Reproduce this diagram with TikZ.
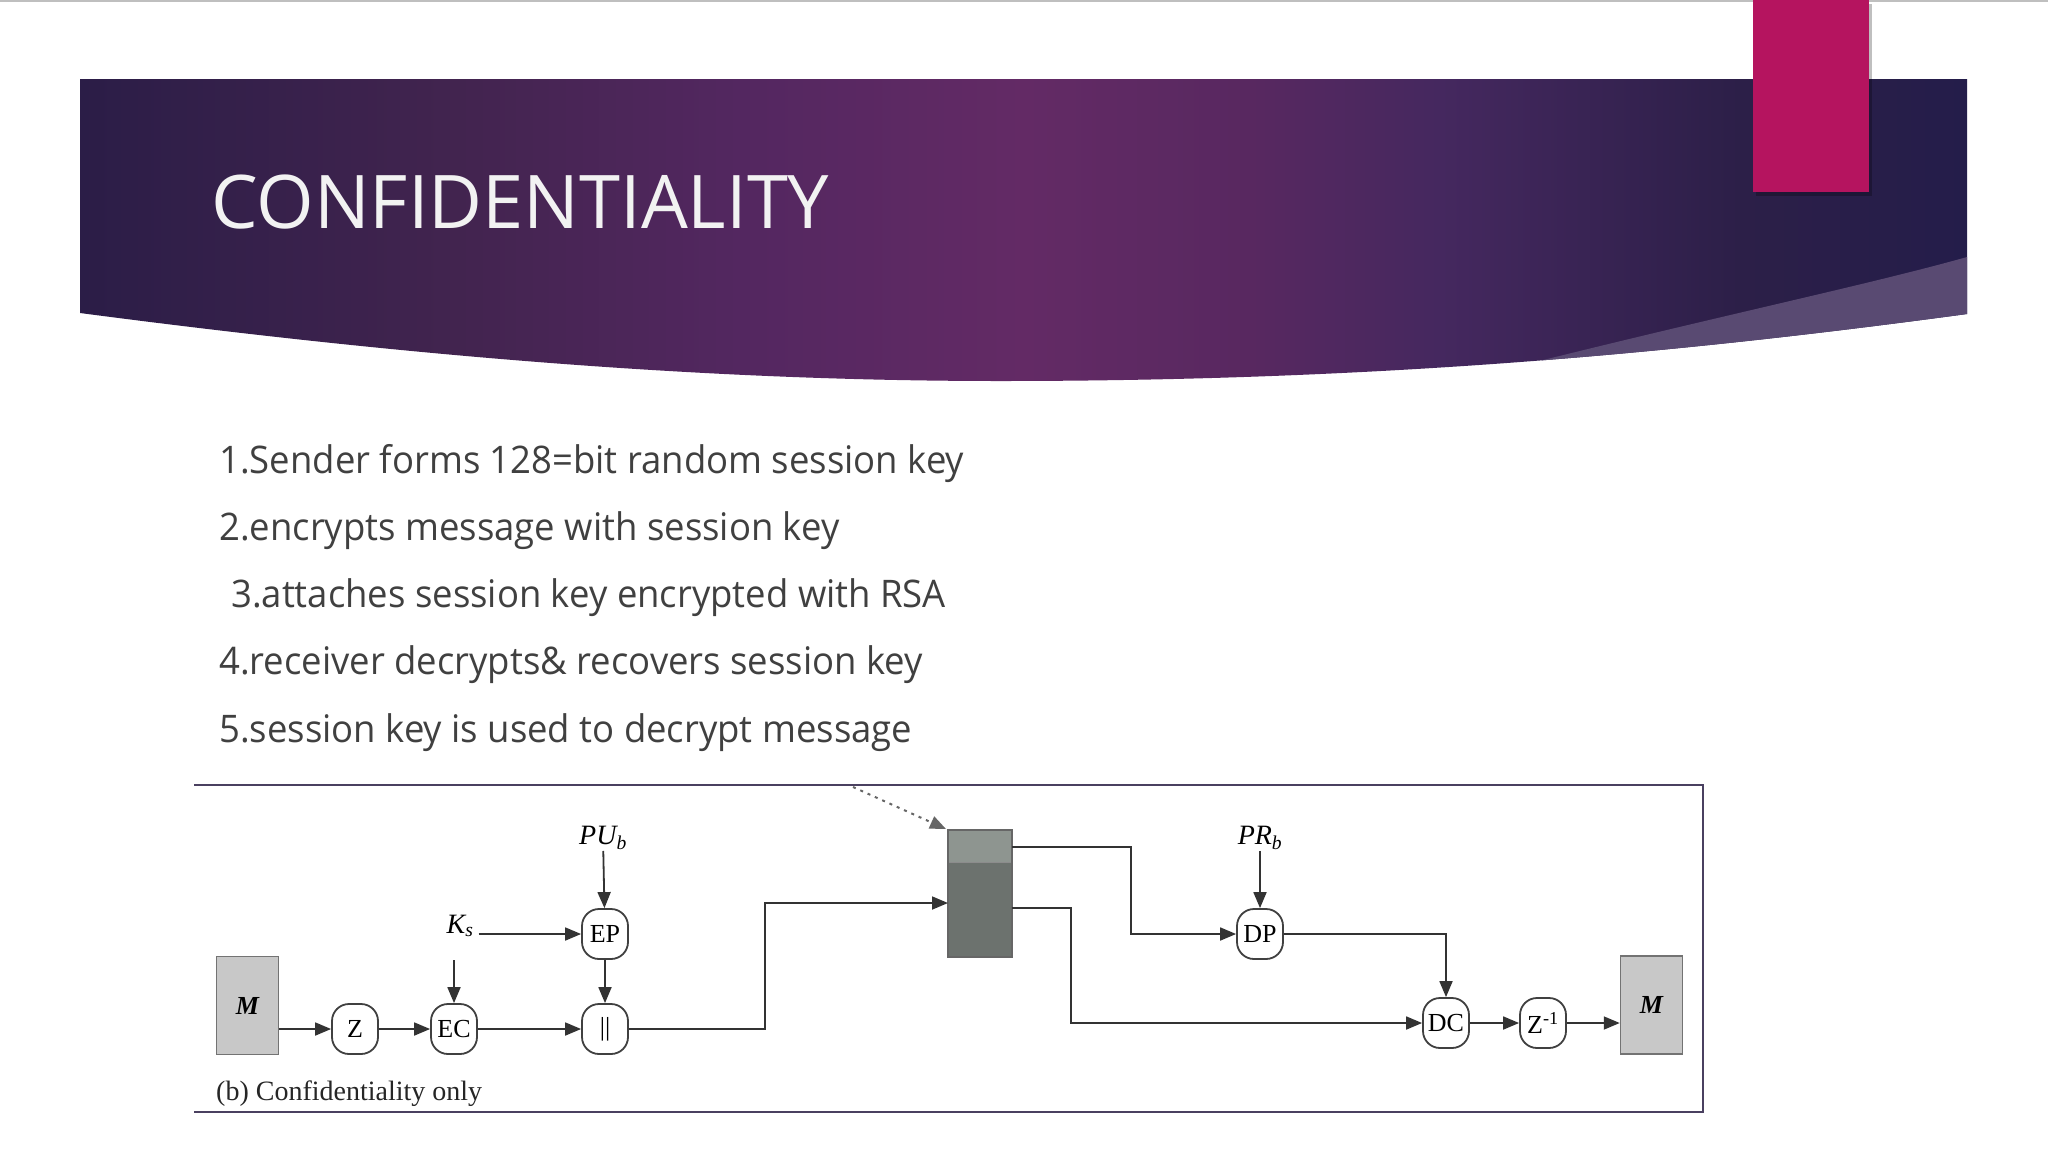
\documentclass[tikz,border=0pt]{standalone}
\usepackage{fontspec}
\usetikzlibrary{arrows.meta,calc}
\newfontfamily\bodyfont[FakeStretch=0.96]{Open Sans}
\newfontfamily\titlefont{Open Sans}
\newfontfamily\diagfont{Liberation Serif}
\definecolor{bandA}{HTML}{2B1D47}
\definecolor{bandB}{HTML}{42244F}
\definecolor{bandC}{HTML}{532760}
\definecolor{bandD}{HTML}{632A65}
\definecolor{bandE}{HTML}{582860}
\definecolor{bandF}{HTML}{45285F}
\definecolor{bandG}{HTML}{2C1F48}
\definecolor{bandH}{HTML}{241D4A}
\definecolor{wedge}{HTML}{594A72}
\definecolor{magbar}{HTML}{B5145F}
\definecolor{bodytext}{HTML}{404040}
\definecolor{framecol}{HTML}{4A4060}
\definecolor{linecol}{HTML}{333333}
\definecolor{boxgray}{HTML}{C8C8C8}
\definecolor{pktdark}{HTML}{6C726E}
\definecolor{pktlight}{HTML}{8E9590}
\pgfdeclarehorizontalshading{bandshade}{100bp}{
  color(0bp)=(bandA); color(25bp)=(bandA); color(35bp)=(bandB); color(42.5bp)=(bandC);
  color(50bp)=(bandD); color(56bp)=(bandE); color(61bp)=(bandF);
  color(69bp)=(bandG); color(75bp)=(bandH); color(100bp)=(bandH)}
\tikzset{
  bodyline/.style={anchor=base west, text=bodytext, inner sep=0pt,
    font=\bodyfont\fontsize{38}{46}\selectfont},
  proc/.style={draw=black!75, line width=1.8pt, fill=white, rounded corners=17pt,
    minimum width=46pt, minimum height=50pt, inner sep=0pt,
    font=\diagfont\fontsize{26}{28}\selectfont},
  msgbox/.style={draw=black!55, line width=1.5pt, fill=boxgray, minimum width=62pt,
    minimum height=98pt, inner sep=0pt, font=\diagfont\fontsize{26}{28}\selectfont\bfseries\itshape},
  lbl/.style={inner sep=1pt, font=\diagfont\fontsize{28}{30}\selectfont\itshape},
  arr/.style={draw=linecol, line width=1.8pt, -{Triangle[length=16pt,width=13pt]}},
  dotarr/.style={draw=black!60, line width=2pt, dash pattern=on 3pt off 5pt,
    -{Triangle[length=16pt,width=13pt]}},
  frameline/.style={draw=framecol, line width=2.5pt}
}
\begin{document}
\begin{tikzpicture}[x=1pt,y=-1pt]
\useasboundingbox (0,0) rectangle (2048,1152);
\fill[white] (0,0) rectangle (2048,1152);
\draw[black!25, line width=2pt] (0,1) -- (2048,1);
% header band
\shade[shading=bandshade] (80,79) -- (1967,79) -- (1967,314)
  .. controls (1700,350) and (1400,381) .. (1000,381)
  .. controls (700,381) and (400,355) .. (80,313) -- cycle;
\begin{scope}
  \clip (80,79) -- (1967,79) -- (1967,314)
    .. controls (1700,350) and (1400,381) .. (1000,381)
    .. controls (700,381) and (400,355) .. (80,313) -- cycle;
  \fill[wedge] (1380,402) .. controls (1650,330) and (1850,290) .. (1967,257)
    -- (1990,257) -- (1990,430) -- (1380,430) -- cycle;
\end{scope}
% magenta bar
\fill[black, opacity=0.25] (1756,4) rectangle (1872,196);
\fill[magbar] (1753,0) rectangle (1869,192);
% title
\node[anchor=base west, inner sep=0pt, text=white!95!black,
  font=\titlefont\fontsize{74}{80}\selectfont] (title) at (211,228) {CONFIDENTIALITY};
% body text
\node[bodyline] (l1) at (219,473) {1.Sender forms 128=bit random session key};
\node[bodyline] (l2) at (219,540) {2.encrypts message with session key};
\node[bodyline] (l3) at (231,607) {3.attaches session key encrypted with RSA};
\node[bodyline] (l4) at (219,674) {4.receiver decrypts\& recovers session key};
\node[bodyline] (l5) at (219,742) {5.session key is used to decrypt message};
% diagram frame
\draw[frameline] (194,785) -- (1703,785) -- (1703,1112) -- (194,1112);
% nodes
\node[msgbox] (ML) at (247.5,1005.5) {M};
\node[proc] (Z) at (355,1029) {Z};
\node[proc] (EC) at (454,1029) {EC};
\node[proc] (OR) at (605,1029) {||};
\node[proc] (EP) at (605,934) {EP};
\node[lbl] (Ks) at (460,926) {K\textsubscript{\textit{s}}};
\node[lbl] (PUb) at (603,838) {PU\textsubscript{\textit{b}}};
\coordinate (ECin) at (454,960);
\node[draw=black!60, line width=1.5pt, fill=pktdark, minimum width=64pt,
  minimum height=127pt, inner sep=0pt] (pkt) at (980,893.5) {};
\fill[pktlight] (948.75,830.75) rectangle (1011.25,862);
\draw[black!45, line width=1pt] (948.75,862) -- (1011.25,862);
\coordinate (pin) at (948,903);
\coordinate (pktnw) at (946,829);
\coordinate (dstart) at (853,787);
\coordinate (pout1) at (1012,847);
\coordinate (pout2) at (1012,908);
\node[proc] (DP) at (1260,934) {DP};
\node[lbl] (PRb) at (1260,838) {PR\textsubscript{\textit{b}}};
\node[proc] (DC) at (1446,1023) {DC};
\node[proc] (Zi) at (1543,1023) {Z\textsuperscript{-1}};
\node[msgbox] (MR) at (1651.5,1005) {M};
\node[anchor=base west, inner sep=0pt, font=\diagfont\fontsize{28}{30}\selectfont,
  text=black!85] (cap) at (216,1100) {(b) Confidentiality only};
% connectors
\draw[arr] (ML.east |- Z) -- (Z);
\draw[arr] (Z) -- (EC);
\draw[arr] (EC) -- (OR);
\draw[arr] (ECin) -- (EC);
\draw[arr] ([xshift=4pt]Ks.east |- EP) -- (EP);
\draw[arr] (PUb) -- (EP);
\draw[arr] (EP) -- (OR);
\draw[arr] (OR) -- (765,1029) -- (765,903) -- (pin);
\draw[dotarr] (dstart) -- (pktnw);
\draw[arr] (pout1) -- (1131,847) -- (1131,934) -- (DP);
\draw[arr] (PRb) -- (DP);
\draw[arr] (DP) -- (1446,934) -- (DC);
\draw[arr] (pout2) -- (1071,908) -- (1071,1023) -- (DC);
\draw[arr] (DC) -- (Zi);
\draw[arr] (Zi) -- (MR.west |- Zi);
\end{tikzpicture}
\end{document}
